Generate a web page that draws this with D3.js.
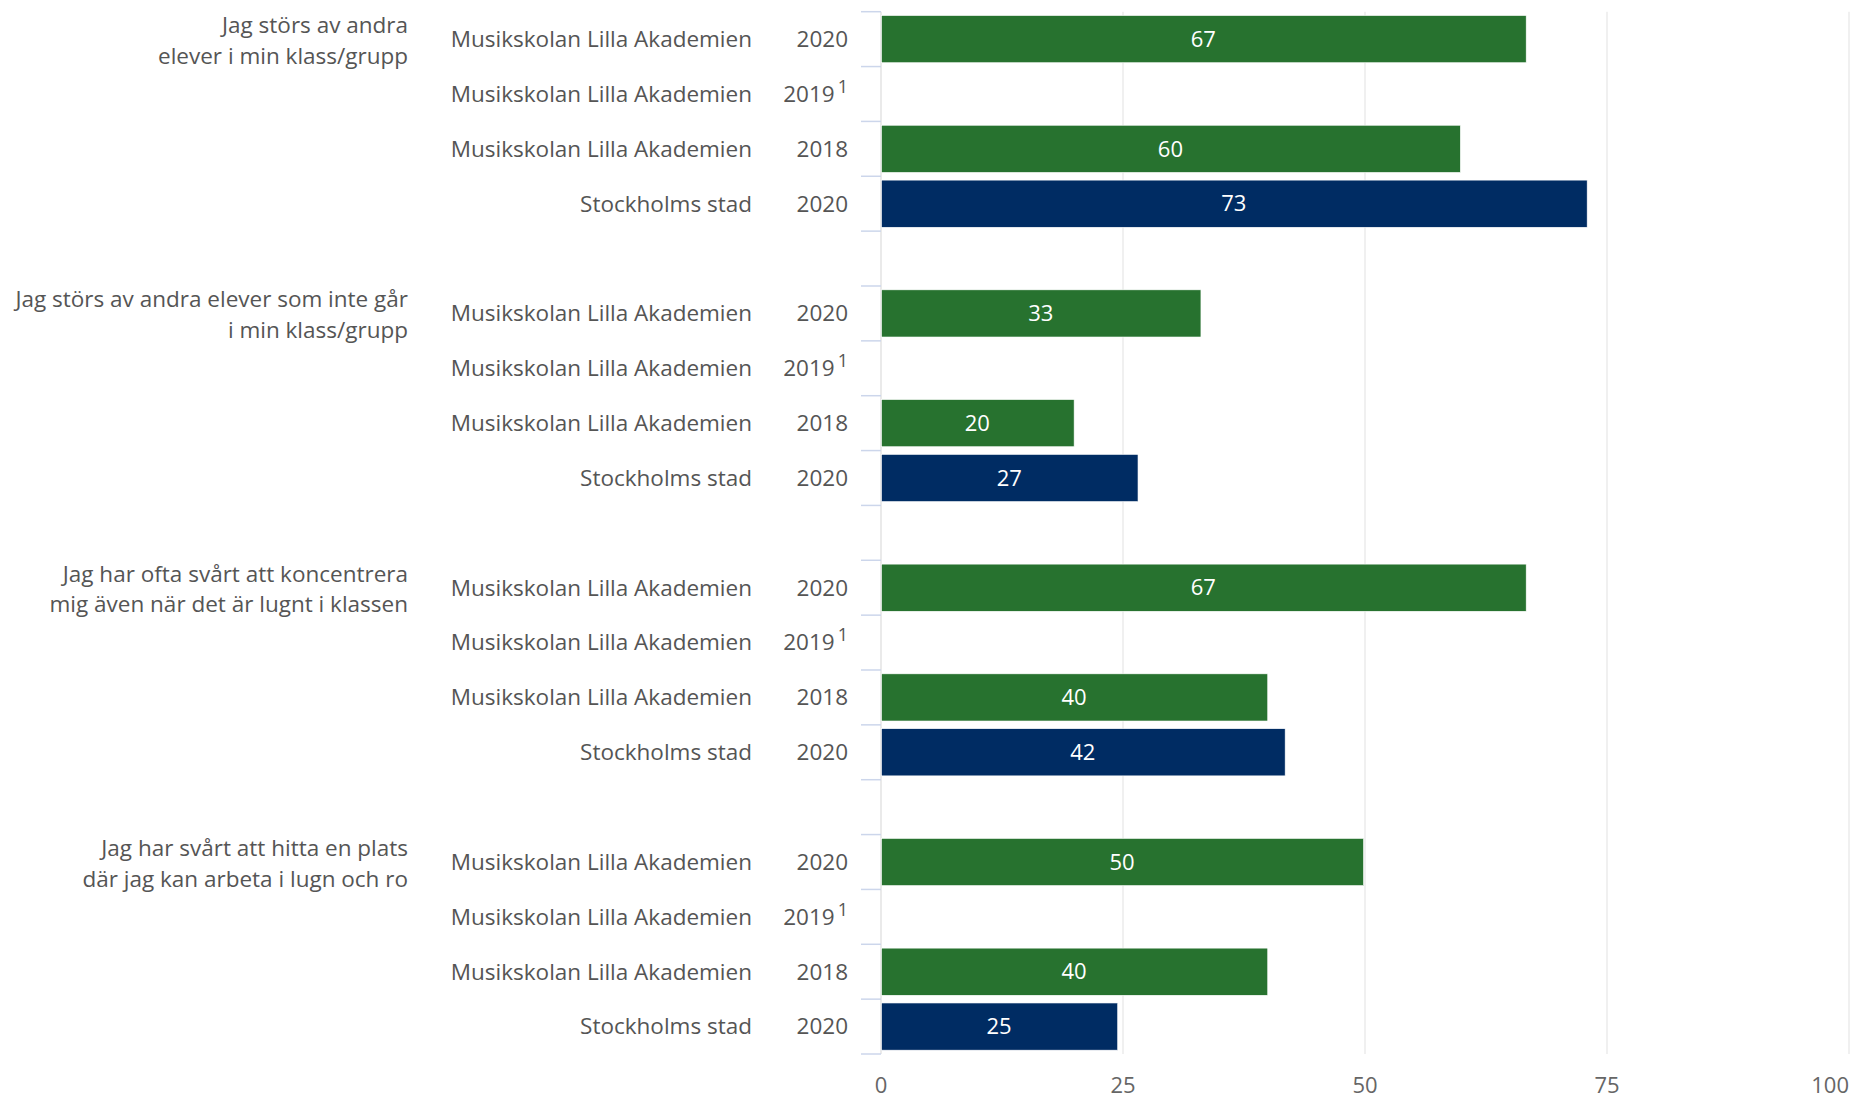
<!DOCTYPE html>
<html>
<head>
<meta charset="utf-8">
<script src="https://cdn.jsdelivr.net/npm/d3@7"></script>
<style>
  html, body { margin: 0; padding: 0; background: #fff; }
  svg { display: block; font-family: "Open Sans", sans-serif; }
</style>
</head>
<body>
<svg id="chart" width="1851" height="1098"></svg>
<script>
// ---------- data ----------
const questions = [
  ["Jag störs av andra", "elever i min klass/grupp"],
  ["Jag störs av andra elever som inte går", "i min klass/grupp"],
  ["Jag har ofta svårt att koncentrera", "mig även när det är lugnt i klassen"],
  ["Jag har svårt att hitta en plats", "där jag kan arbeta i lugn och ro"]
];
const rowNames = ["Musikskolan Lilla Akademien", "Musikskolan Lilla Akademien", "Musikskolan Lilla Akademien", "Stockholms stad"];
const rowYears = ["2020", "2019", "2018", "2020"];
const rowFootnotes = ["", "1", "", ""];
const rowSeries = ["school", "school", "school", "city"];
const valuesQ1 = [66.6, null, 59.8, 72.9];
const valuesQ2 = [33.0, null, 19.9, 26.5];
const valuesQ3 = [66.6, null, 39.9, 41.7];
const valuesQ4 = [49.8, null, 39.9, 24.4];
const labelsQ1 = ["67", null, "60", "73"];
const labelsQ2 = ["33", null, "20", "27"];
const labelsQ3 = ["67", null, "40", "42"];
const labelsQ4 = ["50", null, "40", "25"];
const xTicks = [0, 25, 50, 75, 100];

const allValues = [valuesQ1, valuesQ2, valuesQ3, valuesQ4];
const allLabels = [labelsQ1, labelsQ2, labelsQ3, labelsQ4];
const colors = { school: "#27722f", city: "#002c63" };

// ---------- build slot list (4 rows per question + 1 gap between questions) ----------
const slots = [];
questions.forEach((q, qi) => {
  rowNames.forEach((name, ri) => {
    slots.push({ id: `q${qi}r${ri}`, qi, ri, name, year: rowYears[ri], foot: rowFootnotes[ri],
      series: rowSeries[ri], value: allValues[qi][ri], label: allLabels[qi][ri] });
  });
  if (qi < questions.length - 1) slots.push({ id: `gap${qi}`, gap: true });
});

// ---------- layout ----------
const svg = d3.select("#chart");
const plotLeft = 881, plotRight = 1849, plotTop = 11.7, plotBottom = 1054;
const labelSize = 22.5;

const x = d3.scaleLinear().domain([0, 100]).range([plotLeft, plotRight]);
const y = d3.scaleBand().domain(slots.map(d => d.id)).range([plotTop, plotBottom]).padding(0);
const bw = y.bandwidth();

// gridlines
svg.append("g").selectAll("line").data(xTicks.filter(t => t > 0)).join("line")
  .attr("x1", d => x(d)).attr("x2", d => x(d))
  .attr("y1", plotTop).attr("y2", plotBottom)
  .attr("stroke", "#e6e6e6").attr("stroke-width", 1.2);

// y axis line
svg.append("line").attr("x1", plotLeft).attr("x2", plotLeft).attr("y1", plotTop).attr("y2", plotBottom)
  .attr("stroke", "#e3e3e3").attr("stroke-width", 1.5);

// tick marks at every band boundary
const boundaries = slots.map(d => y(d.id)).concat([plotBottom]);
svg.append("g").selectAll("line").data(boundaries).join("line")
  .attr("x1", plotLeft - 20).attr("x2", plotLeft)
  .attr("y1", d => d).attr("y2", d => d)
  .attr("stroke", "#ccd6eb").attr("stroke-width", 1.5);

// bars
const rows = slots.filter(d => !d.gap);
const barPad = 0.07;
svg.append("g").selectAll("rect").data(rows.filter(d => d.value != null)).join("rect")
  .attr("x", x(0) + 0.5)
  .attr("y", d => y(d.id) + bw * barPad)
  .attr("width", d => x(d.value) - x(0))
  .attr("height", bw * (1 - 2 * barPad))
  .attr("fill", d => colors[d.series])
  .attr("stroke", "#ffffff").attr("stroke-width", 0.6);

// value labels
svg.append("g").selectAll("text").data(rows.filter(d => d.value != null)).join("text")
  .attr("x", d => (x(0) + x(d.value)) / 2)
  .attr("y", d => y(d.id) + bw / 2)
  .attr("dy", "0.35em")
  .attr("text-anchor", "middle")
  .attr("fill", "#ffffff")
  .attr("font-size", 22)
  .text(d => d.label);

// row name labels
svg.append("g").selectAll("text").data(rows).join("text")
  .attr("x", 752)
  .attr("y", d => y(d.id) + bw / 2)
  .attr("dy", "0.35em")
  .attr("text-anchor", "end")
  .attr("fill", "#555555")
  .attr("font-size", labelSize)
  .text(d => d.name);

// year labels (with footnote superscript)
const yr = svg.append("g").selectAll("text").data(rows).join("text")
  .attr("x", 848)
  .attr("y", d => y(d.id) + bw / 2)
  .attr("dy", "0.35em")
  .attr("text-anchor", "end")
  .attr("fill", "#555555")
  .attr("font-size", labelSize);
yr.append("tspan").text(d => d.year);
yr.filter(d => d.foot).append("tspan")
  .attr("dx", 3).attr("dy", -9).attr("font-size", 18).text(d => d.foot);

// question labels
const firstRows = rows.filter(d => d.ri === 0);
const ql = svg.append("g").selectAll("text").data(firstRows).join("text")
  .attr("text-anchor", "end")
  .attr("fill", "#555555")
  .attr("font-size", labelSize);
ql.selectAll("tspan").data(d => questions[d.qi].map((line, i) => ({ line, i, top: y(d.id) })))
  .join("tspan")
  .attr("x", 408)
  .attr("y", d => d.top + 13.5 + d.i * 30.7)
  .attr("dy", "0.35em")
  .text(d => d.line);

// x axis tick labels (last one kept inside the chart edge)
svg.append("g").selectAll("text").data(xTicks).join("text")
  .attr("x", d => x(d))
  .attr("y", 1085)
  .attr("dy", "0.35em")
  .attr("text-anchor", (d, i) => i === xTicks.length - 1 ? "end" : "middle")
  .attr("fill", "#666666")
  .attr("font-size", 22)
  .text(d => d);
</script>
</body>
</html>
